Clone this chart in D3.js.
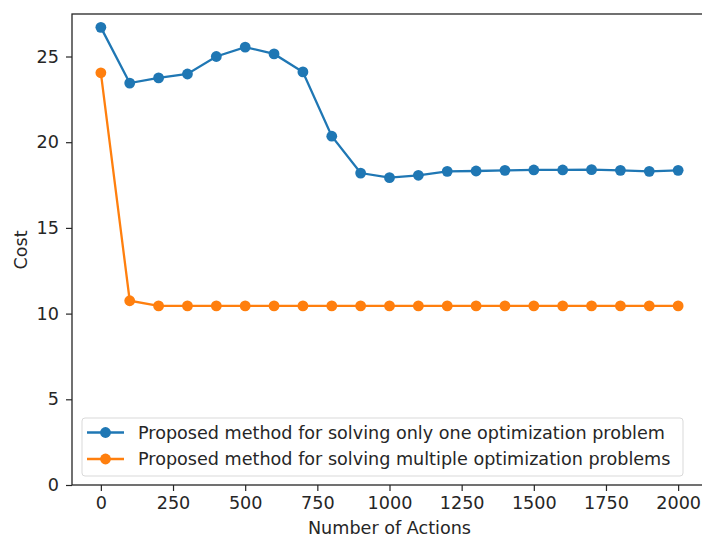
<!DOCTYPE html>
<html>
<head>
<meta charset="utf-8">
<script src="https://cdn.jsdelivr.net/npm/d3@7"></script>
<style>
  body { margin: 0; background: #fff; }
  text { font-family: "DejaVu Sans", sans-serif; fill: #262626; }
</style>
</head>
<body>
<div id="chart"></div>
<script>
// data
var actions = [0, 100, 200, 300, 400, 500, 600, 700, 800, 900, 1000,
               1100, 1200, 1300, 1400, 1500, 1600, 1700, 1800, 1900, 2000];
var oneProblem = [26.7, 23.45, 23.75, 23.98, 25.0, 25.55, 25.15, 24.1, 20.35, 18.2, 17.93,
                  18.07, 18.3, 18.32, 18.36, 18.38, 18.38, 18.4, 18.36, 18.3, 18.36];
var multiProblem = [24.05, 10.75, 10.45, 10.45, 10.45, 10.45, 10.45, 10.45, 10.45, 10.45, 10.45,
                    10.45, 10.45, 10.45, 10.45, 10.45, 10.45, 10.45, 10.45, 10.45, 10.45];
var xTicks = [0, 250, 500, 750, 1000, 1250, 1500, 1750, 2000];
var yTicks = [0, 5, 10, 15, 20, 25];
var seriesNames = ["Proposed method for solving only one optimization problem",
                   "Proposed method for solving multiple optimization problems"];
var colors = ["#1f77b4", "#ff7f0e"];

// svg params
var svgWidth = 702;
var svgHeight = 537;
var margin = {top: 14, left: 72};
var chartWidth = 635;
var chartHeight = 471;
var fontSize = 17.6;

var svg = d3.select("#chart")
  .append("svg")
  .attr("width", svgWidth)
  .attr("height", svgHeight);

var chartGroup = svg.append("g")
  .attr("transform", `translate(${margin.left}, ${margin.top})`);

// scales
var xScale = d3.scaleLinear().domain([-100, 2100]).range([0, chartWidth]);
var yScale = d3.scaleLinear().domain([0, 27.48]).range([chartHeight, 0]);

// axes
var bottomAxis = d3.axisBottom(xScale).tickValues(xTicks).tickFormat(d3.format("d"))
  .tickSize(6).tickPadding(6);
var leftAxis = d3.axisLeft(yScale).tickValues(yTicks).tickFormat(d3.format("d"))
  .tickSize(6).tickPadding(7);

var gx = chartGroup.append("g")
  .attr("transform", `translate(0, ${chartHeight})`)
  .call(bottomAxis);
var gy = chartGroup.append("g").call(leftAxis);

[gx, gy].forEach(g => {
  g.select(".domain").remove();
  g.selectAll("line").attr("stroke", "#262626").attr("stroke-width", 1.2);
  g.selectAll("text").style("font-size", fontSize + "px").attr("fill", "#262626");
});

// spines
chartGroup.append("rect")
  .attr("width", chartWidth)
  .attr("height", chartHeight)
  .attr("fill", "none")
  .attr("stroke", "#262626")
  .attr("stroke-width", 1.3);

// axis labels
svg.append("text")
  .attr("x", margin.left + xScale(1000))
  .attr("y", 534)
  .attr("text-anchor", "middle")
  .style("font-size", fontSize + "px")
  .text("Number of Actions");

svg.append("text")
  .attr("transform", "translate(27, 250) rotate(-90)")
  .attr("text-anchor", "middle")
  .style("font-size", fontSize + "px")
  .text("Cost");

// lines + markers
var allSeries = [oneProblem, multiProblem];
var line = d3.line()
  .x((d, i) => xScale(actions[i]))
  .y(d => yScale(d));

allSeries.forEach((vals, k) => {
  chartGroup.append("path")
    .datum(vals)
    .attr("d", line)
    .attr("fill", "none")
    .attr("stroke", colors[k])
    .attr("stroke-width", 2.3);

  chartGroup.selectAll(".dot" + k)
    .data(vals).enter()
    .append("circle")
    .attr("class", "dot" + k)
    .attr("r", 5.4)
    .attr("cx", (d, i) => xScale(actions[i]))
    .attr("cy", d => yScale(d))
    .style("fill", colors[k]);
});

// legend
var legend = svg.append("g");
legend.append("rect")
  .attr("x", 82)
  .attr("y", 418)
  .attr("width", 601)
  .attr("height", 58)
  .attr("rx", 3)
  .attr("fill", "#fff")
  .attr("fill-opacity", 0.8)
  .attr("stroke", "#d9d9d9")
  .attr("stroke-width", 1);

seriesNames.forEach((name, k) => {
  var cy = 432.5 + k * 26.5;
  legend.append("line")
    .attr("x1", 87).attr("x2", 124)
    .attr("y1", cy).attr("y2", cy)
    .attr("stroke", colors[k])
    .attr("stroke-width", 2.3);
  legend.append("circle")
    .attr("cx", 105.5).attr("cy", cy)
    .attr("r", 5.4)
    .style("fill", colors[k]);
  legend.append("text")
    .attr("x", 138)
    .attr("y", cy)
    .attr("dy", "0.36em")
    .style("font-size", fontSize + "px")
    .text(name);
});
</script>
</body>
</html>
